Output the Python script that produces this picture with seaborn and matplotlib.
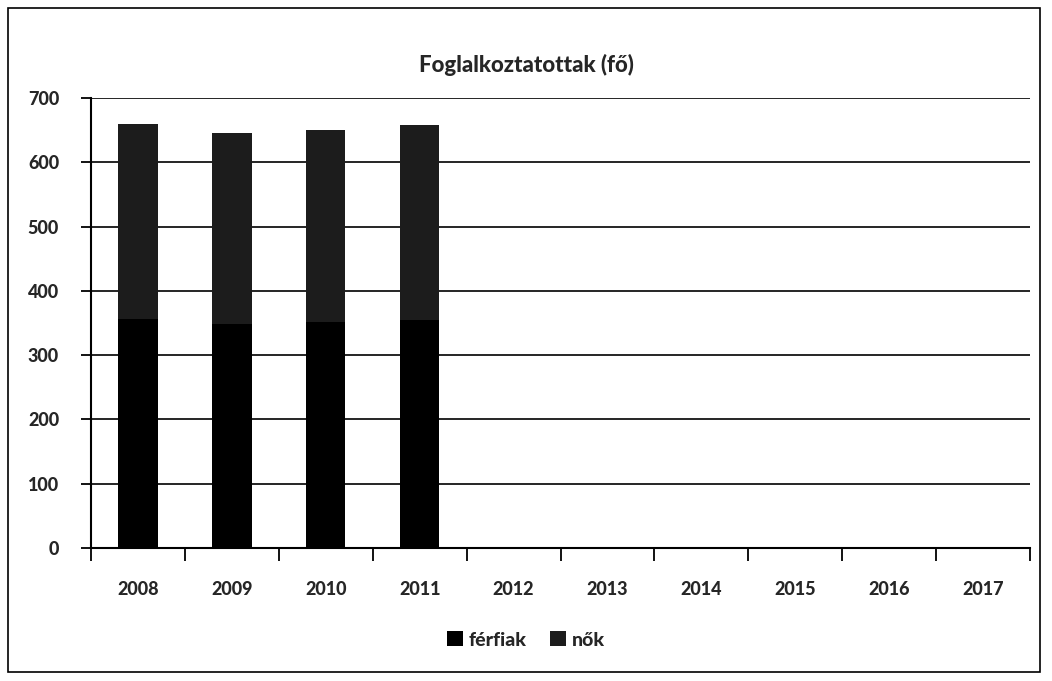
import matplotlib
matplotlib.use("Agg")
import matplotlib.pyplot as plt
import seaborn as sns
import pandas as pd
import numpy as np
from matplotlib.patches import Rectangle

# Adatok
evek = ['2008', '2009', '2010', '2011', '2012', '2013', '2014', '2015', '2016', '2017']
evek_adat = ['2008', '2009', '2010', '2011']
ferfiak = [356, 348, 352, 354]
nok = [303, 297, 298, 304]

sns.set_theme(style="white")
plt.rcParams['font.family'] = ['Lato', 'DejaVu Sans']

df = pd.DataFrame({'ev': evek_adat, 'ferfiak': ferfiak, 'nok': nok})
df['osszes'] = df['ferfiak'] + df['nok']

fig = plt.figure(figsize=(10.52, 6.81), dpi=100)
ax = fig.add_axes([91 / 1052, 1 - 548 / 681, 939 / 1052, 450 / 681])

# Halmozott oszlopok: teljes magasság (nők), rá a férfiak
sns.barplot(data=df, x='ev', y='osszes', order=evek, color='#1c1c1c', width=0.42,
            saturation=1, linewidth=0, ax=ax, label='nők', zorder=2)
sns.barplot(data=df, x='ev', y='ferfiak', order=evek, color='#000000', width=0.42,
            saturation=1, linewidth=0, ax=ax, label='férfiak', zorder=3)

ax.set_ylim(0, 700)
ax.set_xlim(-0.5, 9.5)
ax.set_yticks(range(0, 701, 100))
ax.yaxis.grid(True, color='black', linewidth=1.2)
ax.set_axisbelow(True)
ax.set_xlabel('')
ax.set_ylabel('')

for s in ['top', 'right']:
    ax.spines[s].set_visible(False)
ax.spines['left'].set_color('black')
ax.spines['bottom'].set_color('black')
ax.spines['left'].set_linewidth(1.5)
ax.spines['bottom'].set_linewidth(1.5)

# tick-ek a kategóriák határán
ax.set_xticks(np.arange(-0.5, 10, 1), minor=True)
ax.tick_params(axis='x', which='major', bottom=True, length=0, pad=24, labelsize=13)
ax.tick_params(axis='x', which='minor', bottom=True, length=9, width=1.3, color='black', direction='out')
ax.tick_params(axis='y', length=7, width=1.3, color='black', direction='out', left=True, labelsize=13, pad=16)
for lab in ax.get_xticklabels() + ax.get_yticklabels():
    lab.set_fontweight('black')

fig.text(0.5, 1 - 65 / 681, 'Foglalkoztatottak (fő)', ha='center', va='center',
         fontsize=16, fontweight='black')

handles, labels = ax.get_legend_handles_labels()
order = [labels.index('férfiak'), labels.index('nők')]
leg = fig.legend([handles[i] for i in order], [labels[i] for i in order],
                 loc='center', bbox_to_anchor=(0.5, 1 - 640 / 681), ncol=2, frameon=False,
                 handlelength=0.8, handleheight=0.8, handletextpad=0.3, columnspacing=1.2,
                 prop={'size': 14, 'weight': 'black'})
if ax.get_legend() is not None:
    ax.get_legend().remove()

# külső keret
fig.patches.append(Rectangle((8 / 1052, 1 - 672 / 681), 1032 / 1052, 664 / 681,
                             transform=fig.transFigure, fill=False, edgecolor='black',
                             linewidth=1.2))

fig.savefig('out.png', dpi=100)
